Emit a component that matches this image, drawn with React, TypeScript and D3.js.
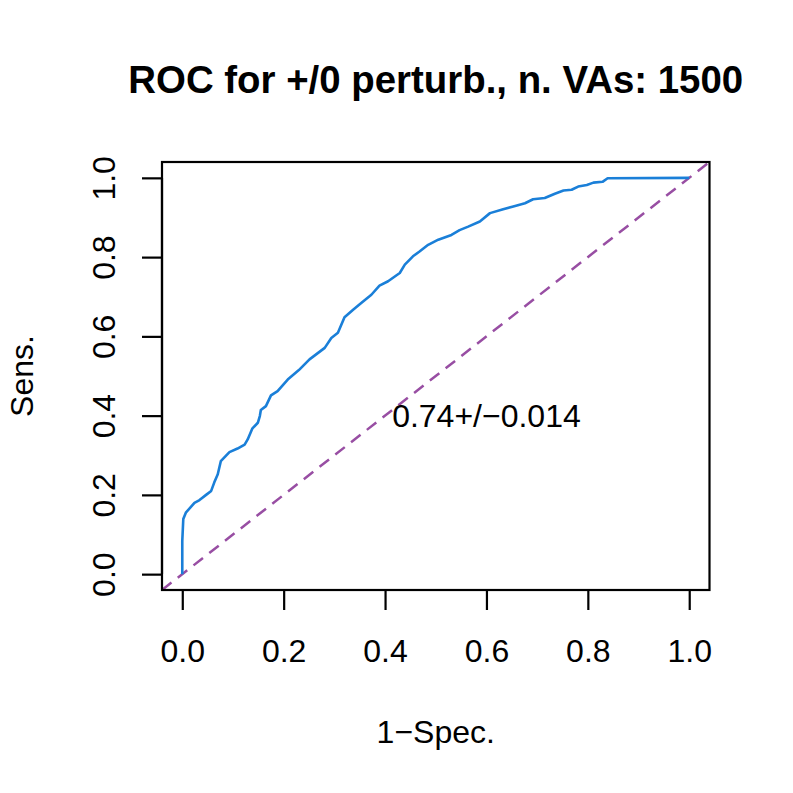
import React, { useRef, useEffect } from "react";
import * as d3 from "d3";

// ROC curve points (1-specificity, sensitivity)
const fpr = [
  0, 0, 0.002, 0.007, 0.024, 0.034, 0.047, 0.057, 0.063, 0.07, 0.076, 0.093,
  0.109, 0.123, 0.129, 0.138, 0.149, 0.153, 0.155, 0.165, 0.175, 0.188, 0.208,
  0.23, 0.251, 0.281, 0.294, 0.307, 0.32, 0.337, 0.353, 0.373, 0.389, 0.406,
  0.429, 0.439, 0.455, 0.468, 0.485, 0.505, 0.531, 0.547, 0.564, 0.587, 0.607,
  0.633, 0.653, 0.676, 0.692, 0.715, 0.735, 0.752, 0.768, 0.781, 0.798, 0.811,
  0.829, 0.839, 1.0,
];
const tpr = [
  0, 0.084, 0.139, 0.155, 0.18, 0.187, 0.2, 0.21, 0.231, 0.252, 0.285, 0.308,
  0.317, 0.327, 0.34, 0.367, 0.382, 0.399, 0.414, 0.424, 0.451, 0.462, 0.491,
  0.515, 0.542, 0.571, 0.596, 0.609, 0.648, 0.667, 0.684, 0.705, 0.728, 0.739,
  0.76, 0.781, 0.802, 0.814, 0.831, 0.844, 0.856, 0.868, 0.877, 0.89, 0.911,
  0.921, 0.928, 0.936, 0.946, 0.949, 0.96, 0.968, 0.97, 0.978, 0.982, 0.988,
  0.99, 0.999, 1.0,
];
const xTicks = [0, 0.2, 0.4, 0.6, 0.8, 1.0];
const yTicks = [0, 0.2, 0.4, 0.6, 0.8, 1.0];
const titleText = "ROC for +/0 perturb., n. VAs: 1500";
const aucText = "0.74+/\u22120.014";

export default function App() {
  const ref = useRef<SVGSVGElement>(null);
  const width = 793;
  const height = 793;

  useEffect(() => {
    const svg = d3.select(ref.current);
    svg.selectAll("*").remove();

    const box = { left: 162, right: 709.5, top: 162, bottom: 590 };
    const font = "Liberation Sans, Arial, sans-serif";

    const x = d3.scaleLinear().domain([-0.04, 1.04]).range([box.left, box.right]);
    const y = d3.scaleLinear().domain([-0.04, 1.04]).range([box.bottom, box.top]);

    svg.append("rect").attr("width", width).attr("height", height).attr("fill", "white");

    // diagonal reference line over the whole plot region
    svg
      .append("line")
      .attr("x1", x(-0.04))
      .attr("y1", y(-0.04))
      .attr("x2", x(1.04))
      .attr("y2", y(1.04))
      .attr("stroke", "#984EA3")
      .attr("stroke-width", 2.5)
      .attr("stroke-dasharray", "12 8");

    const pts = fpr.map((v, i) => [v, tpr[i]] as [number, number]);
    const line = d3
      .line<[number, number]>()
      .x((d) => x(d[0]))
      .y((d) => y(d[1]));

    svg
      .append("path")
      .datum(pts)
      .attr("fill", "none")
      .attr("stroke", "#1a7fd8")
      .attr("stroke-width", 2.6)
      .attr("stroke-linejoin", "round")
      .attr("d", line);

    svg
      .append("rect")
      .attr("x", box.left)
      .attr("y", box.top)
      .attr("width", box.right - box.left)
      .attr("height", box.bottom - box.top)
      .attr("fill", "none")
      .attr("stroke", "black")
      .attr("stroke-width", 2.2);

    // bottom axis
    const gx = svg
      .append("g")
      .attr("transform", `translate(0,${box.bottom})`)
      .call(d3.axisBottom(x).tickValues(xTicks).tickSize(20).tickPadding(30).tickFormat(d3.format(".1f")));
    gx.select(".domain")
      .attr("d", `M${x(0)},0H${x(1)}`)
      .attr("stroke-width", 2.2);
    gx.selectAll(".tick line").attr("stroke-width", 2.2);
    gx.selectAll(".tick text")
      .attr("font-family", font)
      .attr("font-size", 32)
      .attr("fill", "black")
      .attr("dy", 0)
      .attr("y", 72);

    // left axis
    const gy = svg
      .append("g")
      .attr("transform", `translate(${box.left},0)`)
      .call(d3.axisLeft(y).tickValues(yTicks).tickSize(20).tickFormat(d3.format(".1f")));
    gy.select(".domain")
      .attr("d", `M0,${y(0)}V${y(1)}`)
      .attr("stroke-width", 2.2);
    gy.selectAll(".tick line").attr("stroke-width", 2.2);
    gy.selectAll(".tick text")
      .attr("font-family", font)
      .attr("font-size", 32)
      .attr("fill", "black")
      .attr("text-anchor", "middle")
      .attr("x", 0)
      .attr("dy", 0)
      .attr("transform", "translate(-47,0) rotate(-90)");

    svg
      .append("text")
      .attr("x", (box.left + box.right) / 2)
      .attr("y", 93)
      .attr("text-anchor", "middle")
      .attr("font-family", font)
      .attr("font-weight", "bold")
      .attr("font-size", 38.4)
      .text(titleText);

    svg
      .append("text")
      .attr("x", (box.left + box.right) / 2)
      .attr("y", 743)
      .attr("text-anchor", "middle")
      .attr("font-family", font)
      .attr("font-size", 32)
      .text("1\u2212Spec.");

    svg
      .append("text")
      .attr("transform", `translate(33,${(box.top + box.bottom) / 2}) rotate(-90)`)
      .attr("text-anchor", "middle")
      .attr("font-family", font)
      .attr("font-size", 32)
      .text("Sens.");

    svg
      .append("text")
      .attr("x", x(0.6))
      .attr("y", y(0.4))
      .attr("dy", "0.35em")
      .attr("text-anchor", "middle")
      .attr("font-family", font)
      .attr("font-size", 32)
      .text(aucText);
  }, []);

  return (
    <svg
      ref={ref}
      width={width}
      height={height}
      style={{ position: "absolute", left: 0, top: 0 }}
    ></svg>
  );
}
